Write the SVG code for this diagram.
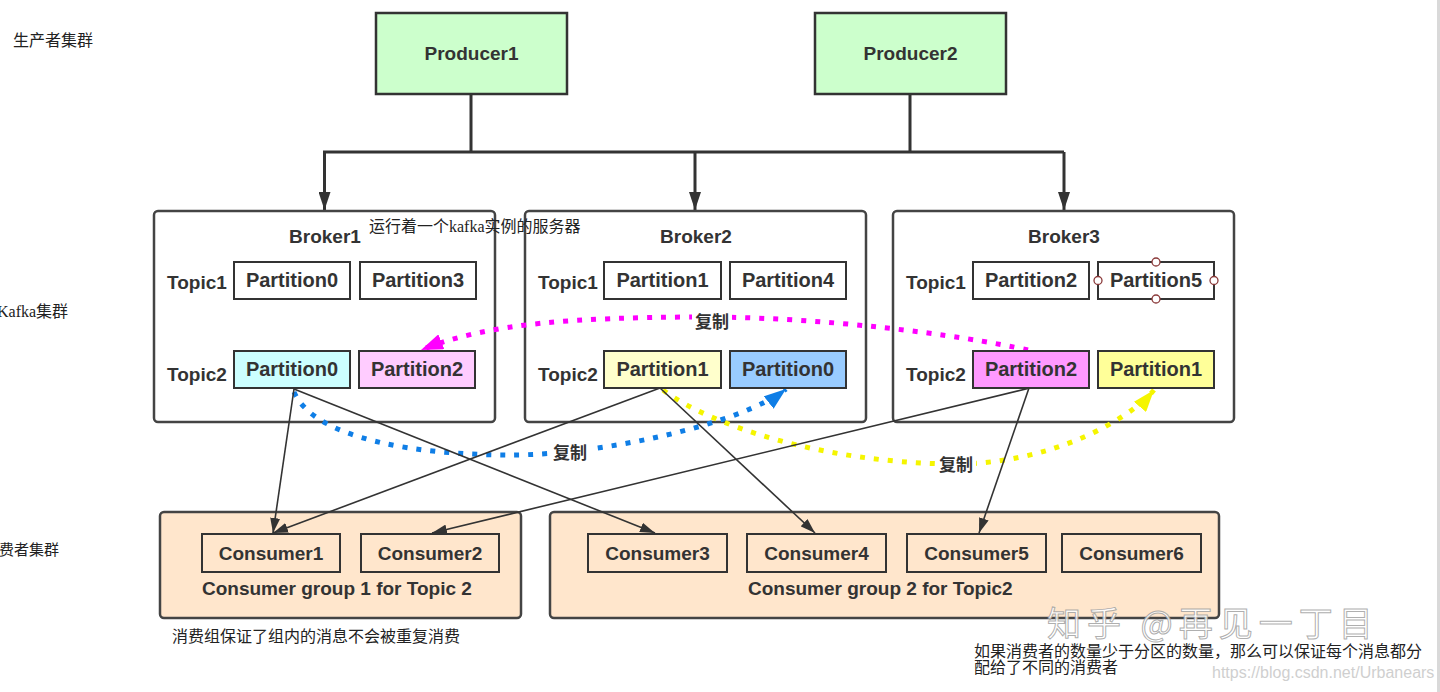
<svg xmlns="http://www.w3.org/2000/svg" width="1440" height="692" viewBox="0 0 1440 692">
<defs>
<style>
.lbl{font-family:"Liberation Sans","Noto Sans CJK SC",sans-serif;font-weight:bold;font-size:19px;fill:#333}
.pt{font-size:20px}
.c{text-anchor:middle}
.note{font-family:"Liberation Serif","Noto Sans CJK SC",serif;font-size:16px;fill:#222}
.cp{font-family:"Noto Sans CJK SC",sans-serif;font-weight:bold;font-size:17px;fill:#333;text-anchor:middle}
.broker{fill:#fff;stroke:#444;stroke-width:2.5}
.part{stroke:#333;stroke-width:2}
.prod{fill:#ccffcc;stroke:#333;stroke-width:2.5}
.grp{fill:#ffe6cc;stroke:#444;stroke-width:2.5}
.cons{fill:#ffe6cc;stroke:#333;stroke-width:2}
.pline{fill:none;stroke:#333;stroke-width:3}
.tline{fill:none;stroke:#333;stroke-width:1.6}
.dot{fill:none;stroke-width:5;stroke-dasharray:5 9}
</style>
<marker id="aBig" markerUnits="userSpaceOnUse" markerWidth="18" markerHeight="12" refX="18" refY="6" orient="auto"><path d="M0,0 L18,6 L0,12 z" fill="#333"/></marker>
<marker id="aThin" markerUnits="userSpaceOnUse" markerWidth="15" markerHeight="10" refX="15" refY="5" orient="auto"><path d="M0,0 L15,5 L0,10 z" fill="#333"/></marker>
<marker id="aMag" markerUnits="userSpaceOnUse" markerWidth="22" markerHeight="16" refX="22" refY="8" orient="auto"><path d="M0,0 L22,8 L0,16 z" fill="#ff00ff"/></marker>
<marker id="aBlue" markerUnits="userSpaceOnUse" markerWidth="22" markerHeight="16" refX="22" refY="8" orient="auto"><path d="M0,0 L22,8 L0,16 z" fill="#0f7ee6"/></marker>
<marker id="aYel" markerUnits="userSpaceOnUse" markerWidth="22" markerHeight="16" refX="22" refY="8" orient="auto"><path d="M0,0 L22,8 L0,16 z" fill="#f5f500"/></marker>
</defs>
<rect width="1440" height="692" fill="#fff"/>
<rect x="1437" y="0" width="3" height="692" fill="#d9d9d9"/>

<!-- side annotations -->
<text class="note" x="13" y="46">生产者集群</text>
<text class="note" x="-3" y="317">Kafka集群</text>
<text class="note" x="-16" y="555" style="font-size:15px">消费者集群</text>

<!-- producers -->
<g id="producer1"><rect class="prod" x="376" y="13" width="191" height="81"/><text class="lbl c" x="471.5" y="60">Producer1</text></g>
<g id="producer2"><rect class="prod" x="815" y="13" width="191" height="81"/><text class="lbl c" x="910.5" y="60">Producer2</text></g>

<!-- producer connectors -->
<g id="producer-connectors">
<path class="pline" d="M471,94 V152 M910,94 V152 M323,152 H1064"/>
<path class="pline" d="M324.5,152 V210" marker-end="url(#aBig)"/>
<path class="pline" d="M695,152 V210" marker-end="url(#aBig)"/>
<path class="pline" d="M1064,152 V210" marker-end="url(#aBig)"/>
</g>

<!-- brokers -->
<g id="broker1"><rect class="broker" x="154" y="211" width="341" height="211" rx="4"/><text class="lbl c" x="325" y="243">Broker1</text>
<text class="lbl" x="167" y="289">Topic1</text><text class="lbl" x="167" y="381">Topic2</text></g>
<g id="broker2"><rect class="broker" x="525" y="211" width="341" height="211" rx="4"/><text class="lbl c" x="696" y="243">Broker2</text>
<text class="lbl" x="538" y="289">Topic1</text><text class="lbl" x="538" y="381">Topic2</text></g>
<g id="broker3"><rect class="broker" x="893" y="211" width="341" height="211" rx="4"/><text class="lbl c" x="1064" y="243">Broker3</text>
<text class="lbl" x="906" y="289">Topic1</text><text class="lbl" x="906" y="381">Topic2</text></g>

<text class="note" x="369" y="232">运行着一个kafka实例的服务器</text>

<!-- replication curves -->
<g id="replication">
<path class="dot" stroke="#ff00ff" d="M1028,350 C960,335 820,316 690,317 C580,318 490,322 421,350" marker-end="url(#aMag)"/>
<path class="dot" stroke="#0f7ee6" d="M294,392 C315,440 420,455 510,455 C600,455 740,425 786,389" marker-end="url(#aBlue)"/>
<path class="dot" stroke="#f5f500" d="M663,390 C710,425 820,462 950,464 C1050,465 1129,420 1154,390" marker-end="url(#aYel)"/>
</g>

<!-- partitions -->
<g id="b1-t1-p0"><rect class="part" x="234" y="262" width="116" height="37" fill="#fff"/><text class="lbl pt c" x="292" y="287">Partition0</text></g>
<g id="b1-t1-p3"><rect class="part" x="360" y="262" width="116" height="37" fill="#fff"/><text class="lbl pt c" x="418" y="287">Partition3</text></g>
<g id="b1-t2-p0"><rect class="part" x="234" y="351" width="116" height="37" fill="#ccffff"/><text class="lbl pt c" x="292" y="376">Partition0</text></g>
<g id="b1-t2-p2"><rect class="part" x="359" y="351" width="116" height="37" fill="#ffccff"/><text class="lbl pt c" x="417" y="376">Partition2</text></g>

<g id="b2-t1-p1"><rect class="part" x="604" y="262" width="117" height="37" fill="#fff"/><text class="lbl pt c" x="662.5" y="287">Partition1</text></g>
<g id="b2-t1-p4"><rect class="part" x="730" y="262" width="116" height="37" fill="#fff"/><text class="lbl pt c" x="788" y="287">Partition4</text></g>
<g id="b2-t2-p1"><rect class="part" x="604" y="351" width="117" height="37" fill="#ffffcc"/><text class="lbl pt c" x="662.5" y="376">Partition1</text></g>
<g id="b2-t2-p0"><rect class="part" x="730" y="351" width="116" height="37" fill="#99ccff"/><text class="lbl pt c" x="788" y="376">Partition0</text></g>

<g id="b3-t1-p2"><rect class="part" x="973" y="262" width="116" height="37" fill="#fff"/><text class="lbl pt c" x="1031" y="287">Partition2</text></g>
<g id="b3-t1-p5"><rect class="part" x="1098" y="262" width="116" height="37" fill="#fff"/><text class="lbl pt c" x="1156" y="287">Partition5</text>
<g fill="#fff" stroke="#8b3a3a" stroke-width="1.3"><circle cx="1156" cy="262" r="4"/><circle cx="1156" cy="299" r="4"/><circle cx="1098" cy="280.5" r="4"/><circle cx="1214" cy="280.5" r="4"/></g></g>
<g id="b3-t2-p2"><rect class="part" x="973" y="351" width="116" height="37" fill="#ff99ff"/><text class="lbl pt c" x="1031" y="376">Partition2</text></g>
<g id="b3-t2-p1"><rect class="part" x="1098" y="351" width="116" height="37" fill="#ffff99"/><text class="lbl pt c" x="1156" y="376">Partition1</text></g>

<!-- replication labels -->
<g id="rep-labels">
<rect x="692" y="308" width="40" height="26" fill="#fff"/><text class="cp" x="712" y="328">复制</text>
<rect x="550" y="440" width="40" height="24" fill="#fff"/><text class="cp" x="570" y="459">复制</text>
<rect x="936" y="452" width="40" height="24" fill="#fff"/><text class="cp" x="956" y="471">复制</text>
</g>

<!-- consumer groups -->
<g id="group1"><rect class="grp" x="160" y="512" width="361" height="106" rx="4"/><text class="lbl" x="202" y="595">Consumer group 1 for Topic 2</text></g>
<g id="group2"><rect class="grp" x="550" y="512" width="669" height="106" rx="4"/><text class="lbl" x="748" y="595">Consumer group 2 for Topic2</text></g>
<g id="consumer1"><rect class="cons" x="202" y="534" width="138" height="38"/><text class="lbl c" x="271" y="560">Consumer1</text></g>
<g id="consumer2"><rect class="cons" x="361" y="534" width="138" height="38"/><text class="lbl c" x="430" y="560">Consumer2</text></g>
<g id="consumer3"><rect class="cons" x="588" y="534" width="139" height="38"/><text class="lbl c" x="657.5" y="560">Consumer3</text></g>
<g id="consumer4"><rect class="cons" x="747" y="534" width="139" height="38"/><text class="lbl c" x="816.5" y="560">Consumer4</text></g>
<g id="consumer5"><rect class="cons" x="907" y="534" width="139" height="38"/><text class="lbl c" x="976.5" y="560">Consumer5</text></g>
<g id="consumer6"><rect class="cons" x="1062" y="534" width="139" height="38"/><text class="lbl c" x="1131.5" y="560">Consumer6</text></g>

<!-- consume connectors -->
<g id="consume-connectors">
<path class="tline" d="M294,389 L273,533" marker-end="url(#aThin)"/>
<path class="tline" d="M294,389 L655,533" marker-end="url(#aThin)"/>
<path class="tline" d="M660,388 L273,533" marker-end="url(#aThin)"/>
<path class="tline" d="M660,388 L815,533" marker-end="url(#aThin)"/>
<path class="tline" d="M1030,388 L432,533" marker-end="url(#aThin)"/>
<path class="tline" d="M1029,388 L979,533" marker-end="url(#aThin)"/>
</g>

<!-- annotations -->
<text class="note" x="172" y="642">消费组保证了组内的消息不会被重复消费</text>
<text class="note" x="974" y="657">如果消费者的数量少于分区的数量，那么可以保证每个消息都分</text>
<text class="note" x="974" y="673">配给了不同的消费者</text>

<!-- watermarks -->
<text x="1047" y="636" style="font-family:'Noto Sans CJK SC',sans-serif;font-size:34px;letter-spacing:6px;fill:#fff;fill-opacity:0.85;stroke:#999;stroke-width:1;stroke-opacity:0.8">知乎 @再见一丁目</text>
<text x="1212" y="678" style="font-family:'Liberation Sans',sans-serif;font-size:16px;fill:#cfcfcf">https://blog.csdn.net/Urbanears</text>
</svg>
